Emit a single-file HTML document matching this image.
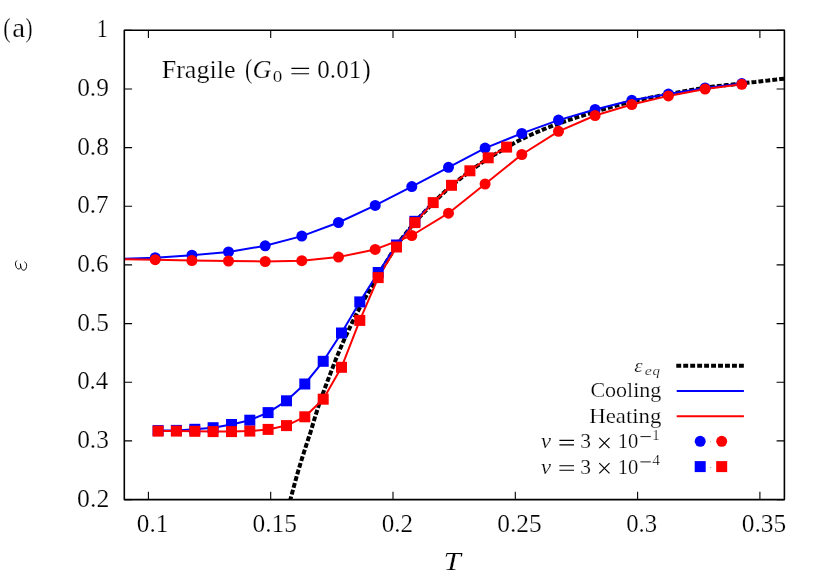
<!DOCTYPE html>
<html><head><meta charset="utf-8"><title>Fragile</title>
<style>
html,body{margin:0;padding:0;background:#fff;}
body{width:830px;height:581px;overflow:hidden;position:relative;font-family:"Liberation Serif",serif;color:#000;}
svg{position:absolute;left:0;top:0;will-change:transform;}
text{font-family:"Liberation Serif",serif;fill:#000;stroke:#fff;stroke-width:0.22px;paint-order:fill stroke;font-kerning:none;font-variant-ligatures:none;letter-spacing:0;white-space:pre;}
</style></head><body>
<svg width="830" height="581" viewBox="0 0 830 581">
<rect x="0" y="0" width="830" height="581" fill="#ffffff"/>
<defs><clipPath id="clip"><rect x="124.3" y="30.3" width="660.1" height="469.3"/></clipPath></defs>
<path d="M148.4,499.6 V491.8 M148.4,30.3 V38.1 M270.7,499.6 V491.8 M270.7,30.3 V38.1 M393.0,499.6 V491.8 M393.0,30.3 V38.1 M515.3,499.6 V491.8 M515.3,30.3 V38.1 M637.6,499.6 V491.8 M637.6,30.3 V38.1 M759.9,499.6 V491.8 M759.9,30.3 V38.1 M124.3,30.3 H132.1 M784.4,30.3 H776.6 M124.3,89.0 H132.1 M784.4,89.0 H776.6 M124.3,147.6 H132.1 M784.4,147.6 H776.6 M124.3,206.3 H132.1 M784.4,206.3 H776.6 M124.3,264.9 H132.1 M784.4,264.9 H776.6 M124.3,323.6 H132.1 M784.4,323.6 H776.6 M124.3,382.3 H132.1 M784.4,382.3 H776.6 M124.3,440.9 H132.1 M784.4,440.9 H776.6 M124.3,499.6 H132.1 M784.4,499.6 H776.6" stroke="#000" stroke-width="1.1" fill="none"/>
<g clip-path="url(#clip)">
<path d="M289.9,501.2 L294.1,485.7 L298.2,471.0 L302.4,457.2 L306.5,444.4 L310.7,431.6 L314.8,417.8 L319.0,404.5 L323.2,392.7 L327.3,381.6 L331.5,370.6 L335.6,359.9 L339.8,349.8 L343.9,340.2 L348.1,331.2 L352.2,322.5 L356.4,314.2 L360.6,306.2 L364.7,298.6 L368.9,291.4 L373.0,284.3 L377.2,277.4 L381.3,270.3 L385.5,263.3 L389.7,256.4 L393.8,249.8 L398.0,243.8 L402.1,238.1 L406.3,232.8 L410.4,227.7 L414.6,222.8 L418.7,218.0 L422.9,213.5 L427.1,209.1 L431.2,204.9 L435.4,200.7 L439.5,196.7 L443.7,192.7 L447.8,188.9 L452.0,185.3 L456.2,181.9 L460.3,178.6 L464.5,175.4 L468.6,172.3 L472.8,169.3 L476.9,166.2 L481.1,163.2 L485.2,160.3 L489.4,157.6 L493.6,155.1 L497.7,152.7 L501.9,150.3 L506.0,147.9 L510.2,145.5 L514.3,143.1 L518.5,140.8 L522.7,138.7 L526.8,136.7 L531.0,134.8 L535.1,132.9 L539.3,131.2 L543.4,129.4 L547.6,127.8 L551.7,126.2 L555.9,124.6 L560.1,123.1 L564.2,121.6 L568.4,120.2 L572.5,118.8 L576.7,117.4 L580.8,116.1 L585.0,114.8 L589.2,113.5 L593.3,112.3 L597.5,111.1 L601.6,109.8 L605.8,108.6 L609.9,107.4 L614.1,106.2 L618.2,105.0 L622.4,103.9 L626.6,102.8 L630.7,101.8 L634.9,100.9 L639.0,99.9 L643.2,99.1 L647.3,98.2 L651.5,97.4 L655.7,96.6 L659.8,95.8 L664.0,95.0 L668.1,94.3 L672.3,93.5 L676.4,92.7 L680.6,91.9 L684.7,91.1 L688.9,90.4 L693.1,89.7 L697.2,89.0 L701.4,88.3 L705.5,87.7 L709.7,87.1 L713.8,86.6 L718.0,86.1 L722.2,85.6 L726.3,85.1 L730.5,84.7 L734.6,84.2 L738.8,83.7 L742.9,83.3 L747.1,82.8 L751.2,82.3 L755.4,81.9 L759.6,81.4 L763.7,80.9 L767.9,80.5 L772.0,80.0 L776.2,79.6 L780.3,79.1 L784.5,78.7" stroke="#000" stroke-width="4" stroke-dasharray="4.9 2.06" fill="none"/>
<polyline points="118.5,258.9 155.2,257.7 191.9,255.2 228.5,251.9 265.2,245.8 301.8,236.1 338.5,222.5 375.2,205.4 411.8,186.6 448.5,167.3 485.1,148.1 521.8,133.4 558.5,120.1 595.1,109.5 631.8,100.3 668.4,94.1 705.1,87.9 741.8,83.6" stroke="#0000ff" stroke-width="2" fill="none" stroke-linejoin="round"/>
<polyline points="118.5,259.1 155.2,259.7 191.9,260.5 228.5,261.0 265.2,261.5 301.8,260.7 338.5,257.1 375.2,249.4 411.8,235.5 448.5,213.2 485.1,184.0 521.8,154.5 558.5,131.3 595.1,115.5 631.8,104.5 668.4,95.9 705.1,89.0 741.8,84.3" stroke="#ff0000" stroke-width="2" fill="none" stroke-linejoin="round"/>
<polyline points="158.1,430.6 176.4,430.4 194.8,429.3 213.1,427.7 231.5,424.5 249.8,420.2 268.1,412.6 286.5,400.8 304.8,384.0 323.2,361.3 341.5,333.0 359.8,301.9 378.2,272.5 396.5,245.0 414.9,221.3 433.2,202.2" stroke="#0000ff" stroke-width="2" fill="none" stroke-linejoin="round"/>
<polyline points="158.1,431.1 176.4,431.1 194.8,431.3 213.1,431.6 231.5,431.6 249.8,431.1 268.1,429.4 286.5,425.6 304.8,416.8 323.2,399.2 341.5,367.3 359.8,320.4 378.2,277.6 396.5,247.0 414.9,222.6 433.2,202.6 451.5,185.3 469.9,170.8 488.2,157.8 506.6,147.1" stroke="#ff0000" stroke-width="2" fill="none" stroke-linejoin="round"/>
</g>
<g fill="#0000ff"><circle cx="155.2" cy="257.7" r="5.5"/><circle cx="191.9" cy="255.2" r="5.5"/><circle cx="228.5" cy="251.9" r="5.5"/><circle cx="265.2" cy="245.8" r="5.5"/><circle cx="301.8" cy="236.1" r="5.5"/><circle cx="338.5" cy="222.5" r="5.5"/><circle cx="375.2" cy="205.4" r="5.5"/><circle cx="411.8" cy="186.6" r="5.5"/><circle cx="448.5" cy="167.3" r="5.5"/><circle cx="485.1" cy="148.1" r="5.5"/><circle cx="521.8" cy="133.4" r="5.5"/><circle cx="558.5" cy="120.1" r="5.5"/><circle cx="595.1" cy="109.5" r="5.5"/><circle cx="631.8" cy="100.3" r="5.5"/><circle cx="668.4" cy="94.1" r="5.5"/><circle cx="705.1" cy="87.9" r="5.5"/><circle cx="741.8" cy="83.6" r="5.5"/></g>
<g fill="#ff0000"><circle cx="155.2" cy="259.7" r="5.5"/><circle cx="191.9" cy="260.5" r="5.5"/><circle cx="228.5" cy="261.0" r="5.5"/><circle cx="265.2" cy="261.5" r="5.5"/><circle cx="301.8" cy="260.7" r="5.5"/><circle cx="338.5" cy="257.1" r="5.5"/><circle cx="375.2" cy="249.4" r="5.5"/><circle cx="411.8" cy="235.5" r="5.5"/><circle cx="448.5" cy="213.2" r="5.5"/><circle cx="485.1" cy="184.0" r="5.5"/><circle cx="521.8" cy="154.5" r="5.5"/><circle cx="558.5" cy="131.3" r="5.5"/><circle cx="595.1" cy="115.5" r="5.5"/><circle cx="631.8" cy="104.5" r="5.5"/><circle cx="668.4" cy="95.9" r="5.5"/><circle cx="705.1" cy="89.0" r="5.5"/><circle cx="741.8" cy="84.3" r="5.5"/></g>
<g fill="#0000ff"><rect x="152.6" y="425.1" width="11.0" height="11.0"/><rect x="170.9" y="424.9" width="11.0" height="11.0"/><rect x="189.3" y="423.8" width="11.0" height="11.0"/><rect x="207.6" y="422.2" width="11.0" height="11.0"/><rect x="226.0" y="419.0" width="11.0" height="11.0"/><rect x="244.3" y="414.7" width="11.0" height="11.0"/><rect x="262.6" y="407.1" width="11.0" height="11.0"/><rect x="281.0" y="395.3" width="11.0" height="11.0"/><rect x="299.3" y="378.5" width="11.0" height="11.0"/><rect x="317.7" y="355.8" width="11.0" height="11.0"/><rect x="336.0" y="327.5" width="11.0" height="11.0"/><rect x="354.3" y="296.4" width="11.0" height="11.0"/><rect x="372.7" y="267.0" width="11.0" height="11.0"/><rect x="391.0" y="239.5" width="11.0" height="11.0"/><rect x="409.4" y="215.8" width="11.0" height="11.0"/></g>
<g fill="#ff0000"><rect x="152.6" y="425.6" width="11.0" height="11.0"/><rect x="170.9" y="425.6" width="11.0" height="11.0"/><rect x="189.3" y="425.8" width="11.0" height="11.0"/><rect x="207.6" y="426.1" width="11.0" height="11.0"/><rect x="226.0" y="426.1" width="11.0" height="11.0"/><rect x="244.3" y="425.6" width="11.0" height="11.0"/><rect x="262.6" y="423.9" width="11.0" height="11.0"/><rect x="281.0" y="420.1" width="11.0" height="11.0"/><rect x="299.3" y="411.3" width="11.0" height="11.0"/><rect x="317.7" y="393.7" width="11.0" height="11.0"/><rect x="336.0" y="361.8" width="11.0" height="11.0"/><rect x="354.3" y="314.9" width="11.0" height="11.0"/><rect x="372.7" y="272.1" width="11.0" height="11.0"/><rect x="391.0" y="241.5" width="11.0" height="11.0"/><rect x="409.4" y="217.1" width="11.0" height="11.0"/><rect x="427.7" y="197.1" width="11.0" height="11.0"/><rect x="446.0" y="179.8" width="11.0" height="11.0"/><rect x="464.4" y="165.3" width="11.0" height="11.0"/><rect x="482.7" y="152.3" width="11.0" height="11.0"/><rect x="501.1" y="141.6" width="11.0" height="11.0"/></g>
<rect x="124.3" y="30.3" width="660.1" height="469.3" fill="none" stroke="#000" stroke-width="1.6" stroke-linejoin="round"/>
<text transform="translate(96.85,36.50) scale(0.8723,0.9500)" font-size="25.4">1</text>
<text transform="translate(77.13,95.96) scale(1.0020,1.0300)" font-size="25.4">0.9</text>
<text transform="translate(77.13,154.62) scale(0.9995,1.0300)" font-size="25.4">0.8</text>
<text transform="translate(77.14,213.29) scale(0.9917,1.0300)" font-size="25.4">0.7</text>
<text transform="translate(77.14,271.95) scale(0.9925,1.0300)" font-size="25.4">0.6</text>
<text transform="translate(77.13,330.61) scale(1.0003,1.0300)" font-size="25.4">0.5</text>
<text transform="translate(77.15,389.28) scale(0.9807,1.0300)" font-size="25.4">0.4</text>
<text transform="translate(77.13,447.94) scale(1.0003,1.0300)" font-size="25.4">0.3</text>
<text transform="translate(77.12,506.60) scale(1.0143,1.0300)" font-size="25.4">0.2</text>
<text transform="translate(136.84,531.90) scale(0.9912,1.0000)" font-size="25.4">0.1</text>
<text transform="translate(252.58,531.90) scale(1.0002,1.0000)" font-size="25.4">0.15</text>
<text transform="translate(381.65,531.90) scale(0.9870,1.0000)" font-size="25.4">0.2</text>
<text transform="translate(497.18,531.90) scale(1.0002,1.0000)" font-size="25.4">0.25</text>
<text transform="translate(626.26,531.90) scale(0.9735,1.0000)" font-size="25.4">0.3</text>
<text transform="translate(741.78,531.90) scale(1.0002,1.0000)" font-size="25.4">0.35</text>
<text transform="translate(3.22,36.60) scale(0.7926,1.0000)" font-size="28.0">(</text>
<text transform="translate(12.18,36.50) scale(1.1462,1.0400)" font-size="25.4">a</text>
<text transform="translate(25.52,36.60) scale(0.7509,1.0000)" font-size="28.0">)</text>
<text transform="translate(161.65,77.50) scale(1.0265,1.0000)" font-size="25.4">Fragile</text>
<text transform="translate(245.04,77.60) scale(0.7787,1.0000)" font-size="28.0">(</text>
<text transform="translate(252.55,77.50) scale(1.0368,1.0000)" font-size="25.4" font-style="italic">G</text>
<text transform="translate(272.77,81.70) scale(1.0921,1.0000)" font-size="17.5">0</text>
<path d="M291.4,68.4 H309.1 M291.4,73.8 H309.1" stroke="#000" stroke-width="1.1" fill="none"/>
<text transform="translate(317.35,77.50) scale(0.9867,1.0000)" font-size="25.4">0.01</text>
<text transform="translate(362.18,77.60) scale(0.9039,1.0000)" font-size="28.0">)</text>
<text transform="translate(443.57,569.80) scale(1.1871,1.0000)" font-size="26.2" font-style="italic">T</text>
<path d="M16.4,260.0 C15.0,261.2 14.8,263.0 15.3,264.6 C15.7,266.4 16.3,267.8 17.4,268.4 C18.4,268.9 19.6,268.7 20.2,267.9 C20.9,267.0 20.8,265.0 20.3,263.2 C20.5,265.6 21.0,268.0 22.2,269.3 C23.0,270.1 24.3,270.3 25.2,269.6 C26.4,268.7 27.0,266.6 27.0,264.6 C27.0,263.2 26.2,262.0 25.0,261.3" stroke="#000" stroke-width="1.05" fill="none" stroke-linecap="round" transform="translate(21,265.5) scale(0.94) translate(-21,-265)"/>
<path d="M676.3,365.7 H744.1" stroke="#000" stroke-width="4" stroke-dasharray="4.9 2.06" fill="none"/>
<path d="M676.7,390.9 H743.9" stroke="#0000ff" stroke-width="2" fill="none"/>
<path d="M676.7,416.2 H743.9" stroke="#ff0000" stroke-width="2" fill="none"/>
<circle cx="700.2" cy="441.3" r="5.5" fill="#0000ff"/><circle cx="721.7" cy="441.3" r="5.5" fill="#ff0000"/>
<rect x="694.7" y="461.1" width="11.0" height="11.0" fill="#0000ff"/><rect x="716.2" y="461.1" width="11.0" height="11.0" fill="#ff0000"/>
<rect x="710.1" y="440.9" width="1" height="1.6" fill="#ffb4a8"/><rect x="710.1" y="466.9" width="1" height="1.2" fill="#a0a0a0"/>
<text transform="translate(634.15,371.70) scale(1.0765,1.0000)" font-size="19.5" font-style="italic">ε</text>
<text transform="translate(644.70,374.70) scale(1.1947,1.0000)" font-size="13.5" font-style="italic">e</text>
<text transform="translate(652.61,374.70) scale(1.1027,1.0000)" font-size="13.5" font-style="italic">q</text>
<text transform="translate(590.40,397.10) scale(1.0396,1.0000)" font-size="21.2">Cooling</text>
<text transform="translate(589.24,422.50) scale(1.0757,1.0000)" font-size="21.2">Heating</text>
<text transform="translate(541.09,448.30) scale(1.0636,1.0000)" font-size="21.2" font-style="italic">ν</text>
<path d="M559.4,440.4 H574 M559.4,444.9 H574" stroke="#000" stroke-width="1.1" fill="none"/>
<text transform="translate(580.17,448.30) scale(1.0163,1.0000)" font-size="21.2">3</text>
<path d="M599.3,437.9 L609.5,448.1 M609.5,437.9 L599.3,448.1" stroke="#000" stroke-width="1.2" fill="none"/>
<text transform="translate(617.79,448.30) scale(0.9714,1.0000)" font-size="21.2">10</text>
<path d="M640.4,436.6 H650.8" stroke="#000" stroke-width="0.9" fill="none"/>
<text transform="translate(652.30,440.10) scale(1.0550,1.0000)" font-size="14.0">1</text>
<text transform="translate(541.09,473.60) scale(1.0636,1.0000)" font-size="21.2" font-style="italic">ν</text>
<path d="M559.4,465.7 H574 M559.4,470.2 H574" stroke="#000" stroke-width="1.1" fill="none"/>
<text transform="translate(580.17,473.60) scale(1.0163,1.0000)" font-size="21.2">3</text>
<path d="M599.3,463.2 L609.5,473.4 M609.5,463.2 L599.3,473.4" stroke="#000" stroke-width="1.2" fill="none"/>
<text transform="translate(617.79,473.60) scale(0.9714,1.0000)" font-size="21.2">10</text>
<path d="M640.4,461.9 H650.8" stroke="#000" stroke-width="0.9" fill="none"/>
<text transform="translate(652.30,465.40) scale(1.1064,1.0000)" font-size="14.0">4</text>
</svg></body></html>
